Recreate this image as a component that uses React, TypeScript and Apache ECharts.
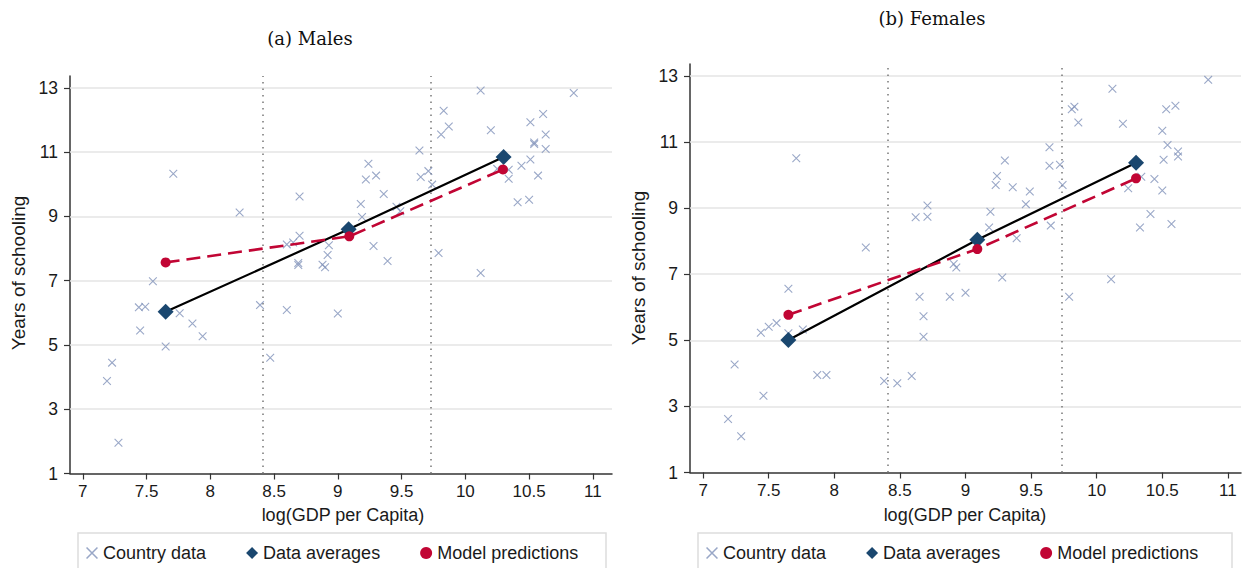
import React, { useEffect, useRef } from "react";
import * as echarts from "echarts";

// ---------- data ----------
const xTicks = [7, 7.5, 8, 8.5, 9, 9.5, 10, 10.5, 11];
const yTicks = [1, 3, 5, 7, 9, 11, 13];
const gridYs = [3, 5, 7, 9, 11, 13];
const thresholds = [8.41, 9.73];

const maleCountry = [
  [7.19, 3.88], [7.23, 4.45], [7.28, 1.96], [7.44, 6.17], [7.49, 6.19], [7.45, 5.45],
  [7.55, 6.98], [7.65, 4.95], [7.71, 10.33], [7.76, 5.99], [7.86, 5.67], [7.94, 5.27],
  [8.23, 9.12], [8.39, 6.24], [8.47, 4.6], [8.6, 6.09], [8.6, 8.13], [8.65, 8.19],
  [8.69, 7.55], [8.69, 7.49], [8.7, 9.62], [8.7, 8.4], [8.88, 7.5], [8.9, 7.42],
  [8.92, 7.8], [8.93, 8.1], [9.0, 5.98], [9.18, 9.39], [9.19, 8.98], [9.22, 10.15],
  [9.24, 10.64], [9.3, 10.27], [9.28, 8.08], [9.36, 9.7], [9.39, 7.61], [9.46, 9.3],
  [9.49, 9.16], [9.64, 11.05], [9.65, 10.23], [9.71, 10.41], [9.74, 9.99], [9.79, 7.86],
  [9.81, 11.55], [9.83, 12.29], [9.87, 11.8], [10.12, 12.92], [10.12, 7.24], [10.2, 11.68],
  [10.25, 10.48], [10.34, 10.45], [10.34, 10.17], [10.41, 9.44], [10.44, 10.58], [10.5, 9.52],
  [10.51, 10.77], [10.51, 11.93], [10.54, 11.3], [10.54, 11.25], [10.57, 10.27], [10.61, 12.19],
  [10.63, 11.55], [10.63, 11.1], [10.85, 12.84],
];
const maleAvg = [[7.65, 6.03], [9.085, 8.6], [10.3, 10.85]];
const malePred = [[7.65, 7.57], [9.09, 8.38], [10.295, 10.46]];

const femaleCountry = [
  [7.19, 2.62], [7.24, 4.27], [7.29, 2.1], [7.44, 5.23], [7.46, 3.32], [7.5, 5.41],
  [7.56, 5.52], [7.65, 6.56], [7.65, 5.21], [7.71, 10.51], [7.76, 5.33], [7.87, 3.95],
  [7.94, 3.95], [8.24, 7.81], [8.38, 3.77], [8.48, 3.7], [8.59, 3.92], [8.62, 8.72],
  [8.65, 6.32], [8.68, 5.73], [8.68, 5.11], [8.71, 9.08], [8.71, 8.74], [8.88, 6.32],
  [8.91, 7.31], [8.93, 7.2], [9.0, 6.44], [9.18, 8.41], [9.19, 8.89], [9.23, 9.7],
  [9.24, 9.97], [9.28, 6.9], [9.3, 10.44], [9.36, 9.63], [9.39, 8.09], [9.46, 9.12],
  [9.49, 9.5], [9.64, 10.84], [9.64, 10.28], [9.65, 8.47], [9.72, 10.31], [9.74, 9.7],
  [9.79, 6.32], [9.81, 11.99], [9.83, 12.07], [9.86, 11.59], [10.11, 6.85], [10.12, 12.61],
  [10.2, 11.55], [10.24, 9.6], [10.33, 8.41], [10.34, 9.95], [10.41, 8.82], [10.44, 9.88],
  [10.5, 9.53], [10.5, 11.34], [10.51, 10.46], [10.53, 11.99], [10.54, 10.91], [10.57, 8.52],
  [10.6, 12.1], [10.62, 10.71], [10.62, 10.56], [10.85, 12.88],
];
const femaleAvg = [[7.65, 5.01], [9.09, 8.04], [10.3, 10.37]];
const femalePred = [[7.65, 5.77], [9.09, 7.76], [10.3, 9.9]];

const panelTitles = ["(a) Males", "(b) Females"];
const legendNames = ["Country data", "Data averages", "Model predictions"];

// ---------- styling ----------
const SANS = '"Liberation Sans", Arial, sans-serif';
const SERIF = '"DejaVu Serif", "Liberation Serif", serif';
const CROSS = "path://M0,0.9L0.9,0L10,9.1L9.1,10ZM9.1,0L10,0.9L0.9,10L0,9.1Z";
const CROSS_COLOR = "#7f91b9";
const NAVY = "#1a476f";
const RED = "#c10534";
const AXIS = "#333333";

export default function App() {
  const ref = useRef<HTMLDivElement>(null);
  useEffect(() => {
    if (!ref.current) return;
    const chart = echarts.init(ref.current, undefined, { renderer: "svg" });

    const grids = [
      { left: 70, top: 76, width: 542, height: 397.5 },
      { left: 690, top: 64, width: 551, height: 408.5 },
    ];
    const xMax = [11.15, 11.1];
    const yMax = [13.37, 13.36];
    const panels = [
      { country: maleCountry, avg: maleAvg, pred: malePred },
      { country: femaleCountry, avg: femaleAvg, pred: femalePred },
    ];

    const xAxes = grids.map((_, i) => ({
      type: "value",
      gridIndex: i,
      min: 6.9,
      max: xMax[i],
      axisLine: { show: true, onZero: false, lineStyle: { color: AXIS, width: 1.5 } },
      axisTick: { show: true, length: 6, customValues: xTicks, lineStyle: { color: AXIS, width: 1.2 } },
      axisLabel: {
        customValues: xTicks,
        formatter: (v: number) => String(v),
        fontFamily: SANS,
        fontSize: 17,
        color: "#1a1a1a",
        margin: 9,
      },
      splitLine: { show: false },
    }));
    const yAxes = grids.map((_, i) => ({
      type: "value",
      gridIndex: i,
      min: 1,
      max: yMax[i],
      axisLine: { show: true, onZero: false, lineStyle: { color: AXIS, width: 1.5 } },
      axisTick: { show: true, length: 6, customValues: yTicks, lineStyle: { color: AXIS, width: 1.2 } },
      axisLabel: {
        customValues: yTicks,
        formatter: (v: number) => String(v),
        fontFamily: SANS,
        fontSize: 17.5,
        color: "#1a1a1a",
        margin: 12,
      },
      splitLine: { show: false },
    }));

    const series: any[] = [];
    panels.forEach((p, i) => {
      series.push({
        type: "scatter",
        name: "grid-bg-" + i,
        xAxisIndex: i,
        yAxisIndex: i,
        data: [],
        silent: true,
        markLine: {
          silent: true,
          symbol: "none",
          z: 1,
          label: { show: false },
          data: [
            ...gridYs.map((v) => ({ yAxis: v, lineStyle: { color: "#e4e4e4", width: 1.5, type: "solid" } })),
            ...thresholds.map((v) => ({ xAxis: v, lineStyle: { color: "#777777", width: 1.5, type: [1.5, 5] } })),
          ],
        },
      });
      series.push({
        type: "scatter",
        name: legendNames[0],
        xAxisIndex: i,
        yAxisIndex: i,
        symbol: CROSS,
        symbolSize: 8.5,
        itemStyle: { color: CROSS_COLOR },
        z: 3,
        data: p.country,
      });
      series.push({
        type: "line",
        name: legendNames[1],
        xAxisIndex: i,
        yAxisIndex: i,
        symbol: "diamond",
        symbolSize: 16,
        showAllSymbol: true,
        itemStyle: { color: NAVY },
        lineStyle: { color: "#000000", width: 2.2 },
        z: 4,
        data: p.avg,
      });
      series.push({
        type: "line",
        name: legendNames[2],
        xAxisIndex: i,
        yAxisIndex: i,
        symbol: "circle",
        symbolSize: 10,
        itemStyle: { color: RED },
        lineStyle: { color: RED, width: 2.6, type: [14, 7] },
        z: 5,
        data: p.pred,
      });
    });

    const legendData = [
      { name: legendNames[0], icon: CROSS, itemStyle: { color: CROSS_COLOR } },
      { name: legendNames[1], icon: "diamond" },
      { name: legendNames[2], icon: "circle" },
    ];
    const legendBase = {
      top: 544,
      orient: "horizontal",
      itemGap: 40,
      itemWidth: 12,
      itemHeight: 12,
      padding: 0,
      selectedMode: false,
      textStyle: { fontFamily: SANS, fontSize: 18, color: "#1a1a1a" },
      data: legendData,
    };

    chart.setOption({
      animation: false,
      backgroundColor: "#ffffff",
      grid: grids.map((g) => ({ ...g, containLabel: false })),
      xAxis: xAxes,
      yAxis: yAxes,
      series,
      legend: [
        { ...legendBase, left: 86 },
        { ...legendBase, left: 706 },
      ],
      graphic: [
        { type: "rect", shape: { x: 78, y: 533, width: 528, height: 44 }, style: { fill: "none", stroke: "#dddddd", lineWidth: 1.5 }, silent: true },
        { type: "rect", shape: { x: 698, y: 533, width: 534, height: 44 }, style: { fill: "none", stroke: "#dddddd", lineWidth: 1.5 }, silent: true },
        { type: "text", x: 310, y: 38, style: { text: panelTitles[0], font: `18px ${SERIF}`, fill: "#111", align: "center", verticalAlign: "middle" } },
        { type: "text", x: 932, y: 18, style: { text: panelTitles[1], font: `18px ${SERIF}`, fill: "#111", align: "center", verticalAlign: "middle" } },
        { type: "text", x: 343, y: 515, style: { text: "log(GDP per Capita)", font: `18px ${SANS}`, fill: "#1a1a1a", align: "center", verticalAlign: "middle" } },
        { type: "text", x: 965, y: 515, style: { text: "log(GDP per Capita)", font: `18px ${SANS}`, fill: "#1a1a1a", align: "center", verticalAlign: "middle" } },
        { type: "text", x: 18, y: 273, rotation: Math.PI / 2, style: { text: "Years of schooling", font: `19px ${SANS}`, fill: "#1a1a1a", align: "center", verticalAlign: "middle" } },
        { type: "text", x: 638, y: 268, rotation: Math.PI / 2, style: { text: "Years of schooling", font: `19px ${SANS}`, fill: "#1a1a1a", align: "center", verticalAlign: "middle" } },
      ],
    });
    return () => chart.dispose();
  }, []);

  return <div ref={ref} style={{ position: "fixed", left: 0, top: 0, width: 1250, height: 568, background: "#fff" }} />;
}
